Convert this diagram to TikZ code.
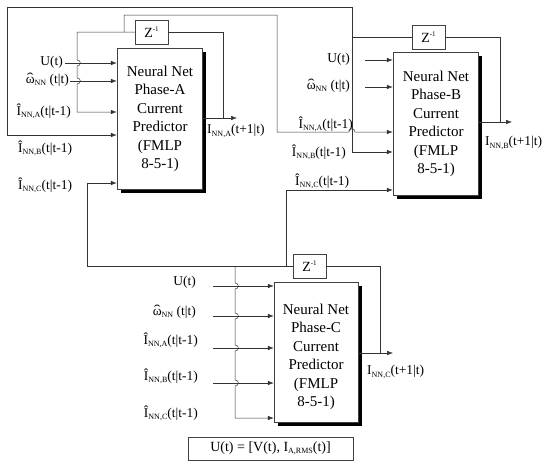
\documentclass[tikz,border=0pt]{standalone}
\usepackage{fontspec}
\setmainfont{Liberation Serif}
\usetikzlibrary{arrows.meta,shadows}
\newcommand\sbs[1]{\raisebox{-0.35ex}{\fontsize{8}{8}\selectfont #1}}
\newcommand\zinv{Z\raisebox{0.9ex}{\fontsize{7}{7}\selectfont -1}}
\newcommand\hatw{\ooalign{ω\cr\hidewidth\raisebox{0.1ex}{\scalebox{1.5}[1]{\char"02C6}}\hidewidth\cr}}
\begin{document}
\begin{tikzpicture}[x=1pt,y=-1pt,
  every node/.style={inner sep=0pt},
  ln/.style={draw=black!80, line width=0.5pt},
  arr/.style={ln,-{Latex[length=6pt,width=4.5pt]}},
  nnbox/.style={draw=black!75, line width=0.5pt, fill=white,
    drop shadow={shadow xshift=3.5pt, shadow yshift=-3.5pt, fill=black, opacity=1}},
  zbox/.style={draw=black!75, line width=0.5pt, fill=white, minimum width=33pt, minimum height=24pt, font=\fontsize{14}{16}\selectfont},
  lbl/.style={font=\fontsize{13.5}{15}\selectfont},
  boxtxt/.style={align=center, font=\fontsize{15}{18.5}\selectfont}]
\useasboundingbox (0,0) rectangle (553,463);

% main boxes
\node[nnbox, minimum width=85pt, minimum height=141pt] (boxA) at (159.5,118.5) {};
\node[boxtxt] (txtA) at (160,119) {Neural Net\\Phase-A\\Current\\Predictor\\(FMLP\\8-5-1)};
\node[nnbox, minimum width=85pt, minimum height=143pt] (boxB) at (435.5,123.5) {};
\node[boxtxt] (txtB) at (436,124) {Neural Net\\Phase-B\\Current\\Predictor\\(FMLP\\8-5-1)};
\node[nnbox, minimum width=84pt, minimum height=140pt] (boxC) at (316,352) {};
\node[boxtxt] (txtC) at (316,357) {Neural Net\\Phase-C\\Current\\Predictor\\(FMLP\\8-5-1)};

% delay boxes
\node[zbox] (zA) at (151.5,32) {\zinv};
\node[zbox] (zB) at (428.5,37) {\zinv};
\node[zbox] (zC) at (309.5,266) {\zinv};

% coordinates
\coordinate (oA) at (237,118); \coordinate (jA) at (223,118);
\coordinate (a1) at (77,32); \coordinate (a2) at (77,112);
\coordinate (a3) at (124,32); \coordinate (a4) at (277,15);
\coordinate (b1) at (277,132);
\coordinate (oB) at (512,122); \coordinate (jB) at (500,122);
\coordinate (b2) at (352,37); \coordinate (b3) at (352,7);
\coordinate (b4) at (352,152); \coordinate (b5) at (7,7); \coordinate (b6) at (7,135);
\coordinate (oC) at (393,353); \coordinate (jC) at (380,353);
\coordinate (c1) at (87,266); \coordinate (c2) at (87,183);
\coordinate (c3) at (286,266); \coordinate (c4) at (286,190);
\coordinate (c5) at (235,266); \coordinate (c6) at (235,418);
\coordinate (aU) at (65,63); \coordinate (aW) at (70,81);
\coordinate (bU) at (365,60); \coordinate (bW) at (365,87);
\coordinate (cU) at (213,286); \coordinate (cW) at (213,316);
\coordinate (cA) at (213,348); \coordinate (cB) at (213,383);

% phase A loop
\draw[arr] (boxA.east |- oA) -- (oA);
\draw[ln] (jA) |- (zA.east);
\draw[arr] (zA.west) -- (a1) -- (77,60) .. controls (81.5,60) and (81.5,66) .. (77,66)
  -- (77,78) .. controls (81.5,78) and (81.5,84) .. (77,84) -- (a2) -- (a2 -| boxA.west);
\draw[arr] (a3) |- (a4) -- (b1) -- (349,132) .. controls (349,127.5) and (355,127.5) .. (355,132)
  -- (b1 -| boxB.west);

% phase B loop
\draw[arr] (boxB.east |- oB) -- (oB);
\draw[ln] (jB) |- (zB.east);
\draw[ln] (zB.west) -- (b2);
\draw[arr] (b3) -- (b4) -- (b4 -| boxB.west);
\draw[arr] (b3) -- (b5) -- (b6) -- (b6 -| boxA.west);

% phase C loop
\draw[arr] (boxC.east |- oC) -- (oC);
\draw[ln] (jC) |- (zC.east);
\draw[arr] (zC.west) -- (c1) -- (c2) -- (c2 -| boxA.west);
\draw[arr] (c3) -- (c4) -- (c4 -| boxB.west);
\draw[arr] (c5) -- (235,283) .. controls (239.5,283) and (239.5,289) .. (235,289)
  -- (235,313) .. controls (239.5,313) and (239.5,319) .. (235,319)
  -- (235,345) .. controls (239.5,345) and (239.5,351) .. (235,351)
  -- (235,380) .. controls (239.5,380) and (239.5,386) .. (235,386)
  -- (c6) -- (c6 -| boxC.west);

% free inputs
\draw[arr] (aU) -- (aU -| boxA.west);
\draw[arr] (aW) -- (aW -| boxA.west);
\draw[arr] (bU) -- (bU -| boxB.west);
\draw[arr] (bW) -- (bW -| boxB.west);
\draw[arr] (cU) -- (cU -| boxC.west);
\draw[arr] (cW) -- (cW -| boxC.west);
\draw[arr] (cA) -- (cA -| boxC.west);
\draw[arr] (cB) -- (cB -| boxC.west);

% labels A
\node[lbl, anchor=east] (lAU) at (63,62) {U(t)};
\node[lbl, anchor=east] (lAW) at (69,80) {\hatw\sbs{NN} (t|t)};
\node[lbl, anchor=east] (lAIA) at (71,111) {\^{I}\sbs{NN,A}(t|t-1)};
\node[lbl, anchor=west] (lAIB) at (18,148) {\^{I}\sbs{NN,B}(t|t-1)};
\node[lbl, anchor=west] (lAIC) at (18,185) {\^{I}\sbs{NN,C}(t|t-1)};
% labels B
\node[lbl, anchor=east] (lBU) at (350,59) {U(t)};
\node[lbl, anchor=east] (lBW) at (350,86) {\hatw\sbs{NN} (t|t)};
\node[lbl, anchor=east] (lBIA) at (353,124) {\^{I}\sbs{NN,A}(t|t-1)};
\node[lbl, anchor=east] (lBIB) at (346,152) {\^{I}\sbs{NN,B}(t|t-1)};
\node[lbl, anchor=west] (lBIC) at (295,181) {\^{I}\sbs{NN,C}(t|t-1)};
% labels C
\node[lbl, anchor=east] (lCU) at (196,282) {U(t)};
\node[lbl, anchor=east] (lCW) at (196,312) {\hatw\sbs{NN} (t|t)};
\node[lbl, anchor=east] (lCIA) at (198,340) {\^{I}\sbs{NN,A}(t|t-1)};
\node[lbl, anchor=east] (lCIB) at (198,376) {\^{I}\sbs{NN,B}(t|t-1)};
\node[lbl, anchor=east] (lCIC) at (198,413) {\^{I}\sbs{NN,C}(t|t-1)};
% outputs
\node[lbl, anchor=west] (lOA) at (207,131) {I\sbs{NN,A}(t+1|t)};
\node[lbl, anchor=west] (lOB) at (485,143) {I\sbs{NN,B}(t+1|t)};
\node[lbl, anchor=west] (lOC) at (367,372) {I\sbs{NN,C}(t+1|t)};

% definition box
\node[draw=black!75, line width=0.5pt, minimum width=165pt, minimum height=23pt,
  font=\fontsize{14}{16}\selectfont] (ubox) at (270.5,448.5) {U(t) = [V(t), I\sbs{A,RMS}(t)]};
\end{tikzpicture}
\end{document}
